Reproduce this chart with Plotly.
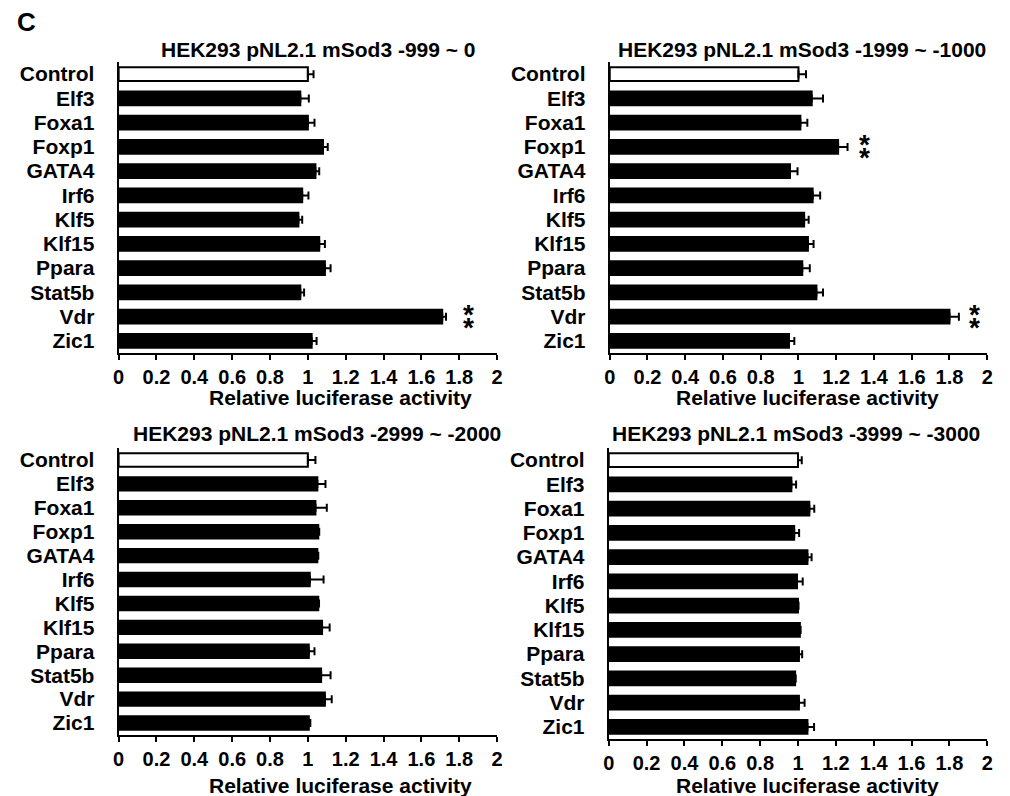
import plotly.graph_objects as go

categories = ["Control", "Elf3", "Foxa1", "Foxp1", "GATA4", "Irf6", "Klf5",
              "Klf15", "Ppara", "Stat5b", "Vdr", "Zic1"]

titles = ["HEK293 pNL2.1 mSod3 -999 ~ 0",
          "HEK293 pNL2.1 mSod3 -1999 ~ -1000",
          "HEK293 pNL2.1 mSod3 -2999 ~ -2000",
          "HEK293 pNL2.1 mSod3 -3999 ~ -3000"]

vals_p1 = [1.00, 0.96, 1.00, 1.08, 1.04, 0.97, 0.95, 1.06, 1.09, 0.96, 1.71, 1.02]
err_p1 = [0.03, 0.045, 0.035, 0.025, 0.02, 0.033, 0.02, 0.03, 0.03, 0.02, 0.02, 0.026]

vals_p2 = [1.00, 1.07, 1.01, 1.21, 0.955, 1.075, 1.03, 1.05, 1.02, 1.095, 1.80, 0.95]
err_p2 = [0.04, 0.06, 0.037, 0.05, 0.04, 0.04, 0.024, 0.03, 0.04, 0.035, 0.05, 0.028]

vals_p3 = [1.00, 1.05, 1.04, 1.055, 1.05, 1.01, 1.055, 1.075, 1.005, 1.07, 1.09, 1.005]
err_p3 = [0.04, 0.043, 0.06, 0.005, 0.005, 0.073, 0.004, 0.04, 0.03, 0.05, 0.036, 0.008]

vals_p4 = [1.00, 0.965, 1.06, 0.98, 1.05, 0.995, 1.00, 1.01, 1.005, 0.985, 1.005, 1.05]
err_p4 = [0.02, 0.025, 0.026, 0.026, 0.022, 0.03, 0.003, 0.004, 0.017, 0.003, 0.03, 0.035]

panel_vals = [vals_p1, vals_p2, vals_p3, vals_p4]
panel_errs = [err_p1, err_p2, err_p3, err_p4]

# significance markers: (panel index, category, x position)
sig_marks = [(0, "Vdr", 1.85), (1, "Foxp1", 1.35), (1, "Vdr", 1.935)]

x_tickvals = [0, 0.2, 0.4, 0.6, 0.8, 1, 1.2, 1.4, 1.6, 1.8, 2]
x_ticktext = ["0", "0.2", "0.4", "0.6", "0.8", "1", "1.2", "1.4", "1.6", "1.8", "2"]
x_title = "Relative luciferase activity"

W, H = 1010, 796
FONT = "Liberation Sans, Arial, sans-serif"

# pixel boxes of the plot areas: (x0, x1, y0, y1) from top-left
boxes = [(114, 497, 62, 353), (611, 993, 62, 353),
         (114, 497, 448, 735), (610, 993, 448, 739)]
title_pos = [(316, 49), (806, 49), (315, 433), (800, 433)]
xtitle_pos = [(339, 397), (811, 397), (339, 785), (811, 785)]

fig = go.Figure()
annotations = []

for i in range(4):
    sfx = "" if i == 0 else str(i + 1)
    colors = ["white" if c == "Control" else "black" for c in categories]
    fig.add_trace(go.Bar(
        x=panel_vals[i], y=categories, orientation="h",
        xaxis="x" + sfx, yaxis="y" + sfx,
        marker=dict(color=colors, line=dict(color="black", width=2)),
        width=0.56,
        error_x=dict(type="data", symmetric=False, array=panel_errs[i],
                     arrayminus=[0] * len(categories), color="black",
                     thickness=2, width=4),
        showlegend=False, hoverinfo="x+y",
    ))
    x0, x1, y0, y1 = boxes[i]
    xa = dict(domain=[x0 / W, x1 / W], range=[0, 2], anchor="y" + sfx,
              tickvals=x_tickvals, ticktext=x_ticktext,
              ticks="outside", ticklen=5, tickwidth=2, tickcolor="black",
              showline=True, linecolor="black", linewidth=2,
              showgrid=False, zeroline=False,
              tickfont=dict(family=FONT, size=20, color="black", weight="bold"))
    ya = dict(domain=[1 - y1 / H, 1 - y0 / H], range=[11.5, -0.5],
              anchor="x" + sfx, type="category",
              categoryorder="array", categoryarray=categories,
              tickmode="array", tickvals=categories, ticktext=categories,
              showline=True, linecolor="black", linewidth=2,
              showgrid=False, zeroline=False, ticks="",
              ticklabelstandoff=18,
              tickfont=dict(family=FONT, size=21, color="black", weight="bold"))
    fig.update_layout(**{"xaxis" + sfx: xa, "yaxis" + sfx: ya})

    tx, ty = title_pos[i]
    annotations.append(dict(x=tx / W, y=1 - ty / H, xref="paper", yref="paper",
                            text=titles[i], showarrow=False,
                            xanchor="center", yanchor="middle",
                            font=dict(family=FONT, size=21, color="black", weight="bold")))
    ax, ay = xtitle_pos[i]
    annotations.append(dict(x=ax / W, y=1 - ay / H, xref="paper", yref="paper",
                            text=x_title, showarrow=False,
                            xanchor="center", yanchor="middle",
                            font=dict(family=FONT, size=21, color="black", weight="bold")))

for (p, cat, xv) in sig_marks:
    sfx = "" if p == 0 else str(p + 1)
    for shift in (2, -11):
        annotations.append(dict(x=xv, y=cat, xref="x" + sfx, yref="y" + sfx,
                                text="*", showarrow=False,
                                xanchor="center", yanchor="middle", yshift=shift,
                                font=dict(family=FONT, size=28, color="black", weight="bold")))

annotations.append(dict(x=21 / W, y=1 - 22 / H, xref="paper", yref="paper",
                        text="C", showarrow=False, xanchor="center", yanchor="middle",
                        font=dict(family=FONT, size=26, color="black", weight="bold")))

fig.update_layout(width=W, height=H, margin=dict(l=0, r=0, t=0, b=0),
                  paper_bgcolor="white", plot_bgcolor="white",
                  bargap=0.44, annotations=annotations)

fig.write_html("out.html", config={"displayModeBar": False},
               post_script="document.body.style.margin='0';"
                           "document.body.style.overflow='hidden';")
